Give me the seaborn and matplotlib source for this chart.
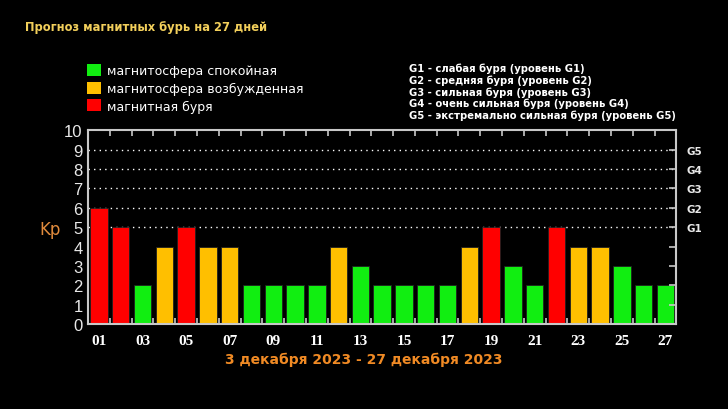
import numpy as np
import pandas as pd
import matplotlib.pyplot as plt
import matplotlib.patches as mpatches
from matplotlib.ticker import FixedLocator
import seaborn as sns

# прогноз Kp по дням
days = [f"{d:02d}" for d in range(1, 28)]
kp = [6, 5, 2, 4, 5, 4, 4, 2, 2, 2, 2, 4, 3, 2, 2, 2, 2, 4, 5, 3, 2, 5, 4, 4, 3, 2, 2]
level = ["storm", "storm", "calm", "excited", "storm", "excited", "excited", "calm", "calm",
         "calm", "calm", "excited", "calm", "calm", "calm", "calm", "calm", "excited", "storm",
         "calm", "calm", "storm", "excited", "excited", "calm", "calm", "calm"]
legend_labels = ["магнитосфера спокойная", "магнитосфера возбужденная", "магнитная буря"]
g_labels = ["G1", "G2", "G3", "G4", "G5"]
g_text = ["G1 - слабая буря (уровень G1)",
          "G2 - средняя буря (уровень G2)",
          "G3 - сильная буря (уровень G3)",
          "G4 - очень сильная буря (уровень G4)",
          "G5 - экстремально сильная буря (уровень G5)"]

colors = {"calm": "#11ee11", "excited": "#ffbf00", "storm": "#ff0000"}
df = pd.DataFrame({"day": days, "kp": kp, "level": level})

sns.set_style("dark")
plt.rcParams["font.family"] = ["DejaVu Sans"]

fig = plt.figure(figsize=(7.28, 4.10), dpi=100, facecolor="black")
ax = fig.add_axes([0.121, 0.207, 0.808, 0.473])
ax.set_facecolor("black")

sns.barplot(data=df, x="day", y="kp", hue="level", palette=colors, dodge=False,
            legend=False, width=0.8, saturation=1, edgecolor="#202020", linewidth=0.6,
            ax=ax, zorder=3)

ax.set_xlim(-0.5, 26.5)
ax.set_ylim(0, 10)
ax.set_xlabel("")
ax.set_ylabel("")
for s in ax.spines.values():
    s.set_color("#c8c8c8")
    s.set_linewidth(1.5)
    s.set_zorder(5)

# гриды 5..9
for y in range(5, 10):
    ax.axhline(y, color="white", linestyle=(0, (1, 3)), linewidth=1, zorder=1)
ax.grid(False)

ax.set_yticks(range(0, 11))
ax.set_yticklabels([str(i) for i in range(0, 11)], color="#e8e8e8", fontsize=12,
                   family="Liberation Sans")
ax.tick_params(axis="y", length=0, pad=4)

ax.set_xticks(range(0, 27, 2))
ax.set_xticklabels(days[::2], color="white", fontsize=11, family="Liberation Serif",
                   fontweight="bold")
ax.xaxis.set_minor_locator(FixedLocator(np.arange(0.5, 26, 1)))
ax.tick_params(axis="x", which="major", length=0, pad=7)
ax.tick_params(axis="x", which="minor", direction="in", length=4, color="#c8c8c8",
               top=True, bottom=True, width=1.2)

ax2 = ax.twinx()
ax2.set_ylim(0, 10)
ax2.set_yticks(range(1, 10))
ax2.set_yticklabels(["", "", "", ""] + g_labels, color="#e8e8e8", fontsize=7.5,
                    fontweight="bold")
ax2.tick_params(axis="y", direction="in", length=5, color="#c8c8c8", width=1.2, pad=7)
ax2.grid(False)
for s in ax2.spines.values():
    s.set_visible(False)

# заголовок и подписи
fig.text(25 / 728, 1 - 28 / 410, "Прогноз магнитных бурь на 27 дней", color="#f2cf5b",
         fontsize=8.3, fontweight="bold", va="center")
fig.text(50 / 728, 1 - 230 / 410, "Kp", color="#e08a3c", fontsize=12, ha="center", va="center")
fig.text(0.5, 1 - 360 / 410, "3 декабря 2023 - 27 декабря 2023", color="#f08a24",
         fontsize=10, fontweight="bold", ha="center", va="center")

handles = [mpatches.Patch(facecolor=colors[k], edgecolor="none", label=l)
           for k, l in zip(["calm", "excited", "storm"], legend_labels)]
leg = fig.legend(handles=handles, loc="upper left", bbox_to_anchor=(82 / 728, 1 - 60 / 410),
                 frameon=False, fontsize=9, handlelength=1.1, handleheight=1.1,
                 handletextpad=0.5, labelspacing=0.35, borderaxespad=0)
for t in leg.get_texts():
    t.set_color("white")

for i, t in enumerate(g_text):
    fig.text(409 / 728, 1 - (69 + i * 11.7) / 410, t, color="white", fontsize=7.2,
             fontweight="bold", va="center")

fig.savefig("out.png", dpi=100, facecolor="black")
